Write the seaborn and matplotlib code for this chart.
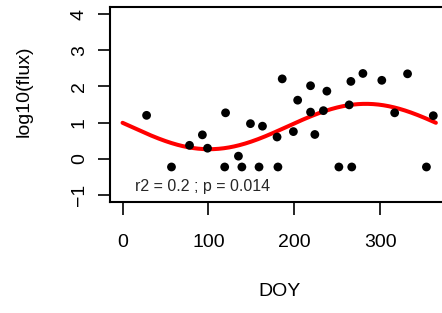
import numpy as np
import pandas as pd
import matplotlib
matplotlib.use("Agg")
import matplotlib.pyplot as plt
import seaborn as sns

# --- data ---
doy = [28, 57, 78, 93, 99, 119, 120, 135, 139, 149, 159, 163, 180, 181, 186,
       199, 204, 219, 219, 224, 234, 238, 252, 264, 266, 267, 280, 302, 317,
       332, 354, 362]
log_flux = [1.20, -0.23, 0.37, 0.66, 0.29, -0.23, 1.27, 0.07, -0.23, 0.97,
            -0.23, 0.90, 0.60, -0.23, 2.21, 0.75, 1.62, 2.02, 1.29, 0.67,
            1.33, 1.87, -0.23, 1.49, 2.14, -0.23, 2.36, 2.17, 1.27, 2.35,
            -0.23, 1.19]
x_ticks = [0, 100, 200, 300]
y_ticks = [-1, 0, 1, 2, 3, 4]
stats_label = "r2 = 0.2 ; p = 0.014"

df = pd.DataFrame({"DOY": doy, "logflux": log_flux})

# harmonic (sin/cos) regression, like lm(y ~ sin + cos)
w = 2 * np.pi / 365
X = np.column_stack([np.ones(len(df)), np.sin(w * df["DOY"]), np.cos(w * df["DOY"])])
coef, *_ = np.linalg.lstsq(X, df["logflux"].to_numpy(), rcond=None)
grid = np.arange(0, 366)
fit = pd.DataFrame({"DOY": grid,
                    "logflux": coef[0] + coef[1] * np.sin(w * grid) + coef[2] * np.cos(w * grid)})

sns.set_theme(style="ticks")
plt.rcParams["font.family"] = ["Liberation Sans", "DejaVu Sans"]

fig = plt.figure(figsize=(4.42, 3.13), dpi=100)
ax = fig.add_axes([0.2489, 0.3546, 0.7656, 0.623])

sns.lineplot(data=fit, x="DOY", y="logflux", color="#ff0000", lw=2.9, ax=ax)
sns.scatterplot(data=df, x="DOY", y="logflux", color="black", s=40,
                edgecolor="none", ax=ax, zorder=3)

ax.set_xlim(-14.6, 379.6)
ax.set_ylim(-1.2, 4.2)
ax.set_xticks(x_ticks)
ax.set_yticks(y_ticks)
ax.set_yticklabels(["\u22121" if t < 0 else str(t) for t in y_ticks],
                   rotation=90, va="center")
ax.tick_params(axis="both", labelsize=14, length=9, width=1.2, color="black",
               labelcolor="black")
ax.tick_params(axis="x", pad=14)
ax.tick_params(axis="y", pad=7)
for sp in ax.spines.values():
    sp.set_visible(True)
    sp.set_linewidth(1.5)
    sp.set_color("black")

ax.set_xlabel("DOY", fontsize=14, color="black")
ax.set_ylabel("log10(flux)", fontsize=14, color="black")
ax.xaxis.set_label_coords(0.502, -0.415)
ax.yaxis.set_label_coords(-0.23, 0.57)

ax.text(15, -0.77, stats_label, fontsize=11.5, ha="left", va="center")

fig.savefig("out.png", dpi=100)
